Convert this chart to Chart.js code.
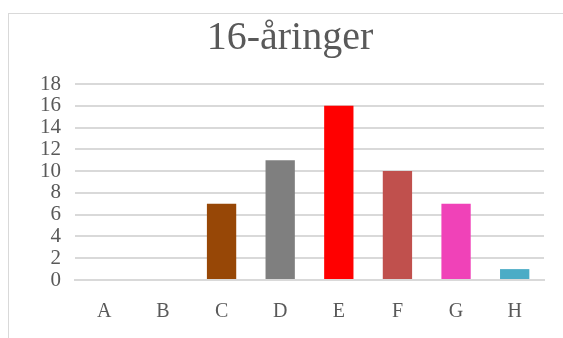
<!DOCTYPE html>
<html>
<head>
<meta charset="utf-8">
<script src="https://cdn.jsdelivr.net/npm/chart.js@4"></script>
<style>
  html, body { margin: 0; padding: 0; background: #fff; }
  #frame { position: absolute; left: 8px; top: 13px; width: 620px; height: 400px; border: 1px solid #d9d9d9; }
  #wrap { position: absolute; left: 0; top: 0; width: 563px; height: 338px; }
</style>
</head>
<body>
<div id="frame"></div>
<div id="wrap"><canvas id="chart"></canvas></div>
<script>
const categories = ["A", "B", "C", "D", "E", "F", "G", "H"];
const values = [0, 0, 7, 11, 16, 10, 7, 1];
const barColors = ["#4f81bd", "#4f81bd", "#974706", "#7f7f7f", "#ff0000", "#c0504d", "#f042b8", "#4bacc6"];
const yTicks = [0, 2, 4, 6, 8, 10, 12, 14, 16, 18];

const serif = "'Liberation Serif', 'DejaVu Serif', serif";

new Chart(document.getElementById("chart"), {
    type: "bar",
    data: {
        labels: categories,
        datasets: [{
            data: values,
            backgroundColor: barColors,
            barPercentage: 0.5,
            categoryPercentage: 1
        }]
    },
    options: {
        responsive: true,
        maintainAspectRatio: false,
        animation: false,
        // left padding chosen so the title centres on x≈290 like the original
        layout: { padding: { left: 36, right: 19, top: 0, bottom: 2 } },
        plugins: {
            legend: { display: false },
            tooltip: { enabled: false },
            title: {
                display: true,
                text: "16-åringer",
                color: "#595959",
                font: { family: serif, size: 40, weight: "normal" },
                padding: { top: 14, bottom: 22 }
            }
        },
        scales: {
            x: {
                grid: { display: false },
                border: { color: "#d9d9d9", width: 2 },
                ticks: { color: "#595959", font: { family: serif, size: 20 }, padding: 12 }
            },
            y: {
                min: 0,
                max: 18,
                afterBuildTicks: axis => { axis.ticks = yTicks.map(v => ({ value: v })); },
                afterFit: axis => { axis.width = 39; },
                grid: { color: "#d9d9d9", lineWidth: 2, drawTicks: false },
                border: { display: false },
                ticks: { color: "#595959", font: { family: serif, size: 21 }, padding: 14, autoSkip: false }
            }
        }
    }
});
</script>
</body>
</html>
